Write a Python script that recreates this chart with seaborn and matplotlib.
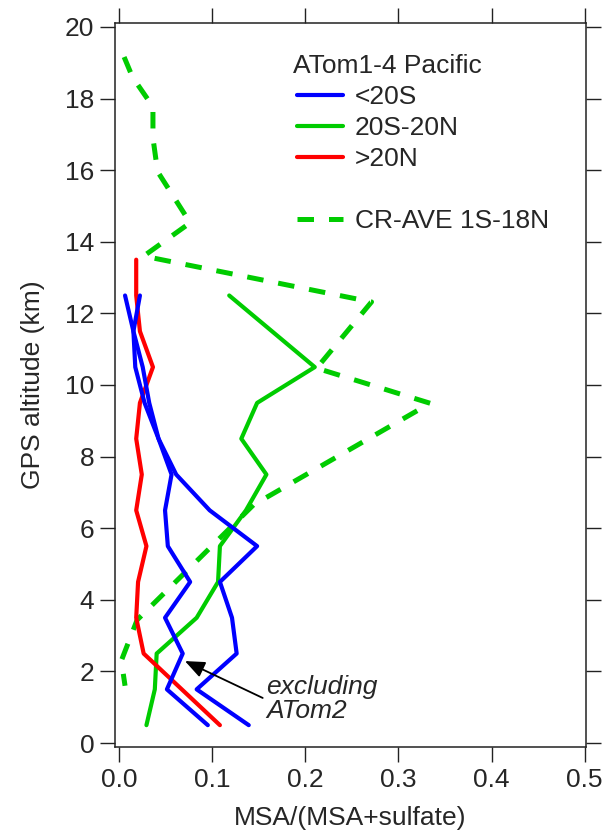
import matplotlib
matplotlib.use("Agg")
import matplotlib.pyplot as plt
from matplotlib.lines import Line2D
import seaborn as sns
import pandas as pd

# ---------------- data ----------------
alt_atom = [0.5, 1.5, 2.5, 3.5, 4.5, 5.5, 6.5, 7.5, 8.5, 9.5, 10.5, 11.5, 12.5]
alt_red = [0.5, 1.5, 2.5, 3.5, 4.5, 5.5, 6.5, 7.5, 8.5, 9.5, 10.5, 11.5, 12.5, 13.5]

south_all = [0.139, 0.083, 0.126, 0.121, 0.108, 0.148, 0.097, 0.061, 0.042, 0.032, 0.025, 0.015, 0.006]
south_excl_atom2 = [0.095, 0.051, 0.068, 0.049, 0.076, 0.052, 0.049, 0.056, 0.042, 0.027, 0.017, 0.015, 0.022]
tropics = [0.029, 0.038, 0.040, 0.083, 0.106, 0.108, 0.136, 0.158, 0.131, 0.148, 0.210, 0.164, 0.118]
north = [0.108, 0.067, 0.026, 0.018, 0.020, 0.029, 0.018, 0.024, 0.018, 0.022, 0.036, 0.022, 0.018, 0.018]

crave_alt = [19.16, 18.6, 17.77, 16.9, 15.96, 14.53, 13.6, 12.32, 10.47, 9.49, 6.65, 3.44, 2.3, 1.6]
crave_ratio = [0.005, 0.014, 0.036, 0.036, 0.041, 0.076, 0.026, 0.271, 0.212, 0.334, 0.144, 0.019, 0.002, 0.006]

x_ticks = [0.0, 0.1, 0.2, 0.3, 0.4, 0.5]
y_ticks = [0, 2, 4, 6, 8, 10, 12, 14, 16, 18, 20]
legend_labels = ["<20S", "20S-20N", ">20N", " ", "CR-AVE 1S-18N"]
legend_title = "ATom1-4 Pacific"

BLUE, GREEN, RED = "#0000FF", "#00CC00", "#FF0000"

# ---------------- style ----------------
sns.set_theme(style="ticks")
plt.rcParams["font.family"] = ["Liberation Sans", "DejaVu Sans"]
plt.rcParams["axes.linewidth"] = 1.1
plt.rcParams["axes.edgecolor"] = "#222222"

fig = plt.figure(figsize=(6.04, 8.39), dpi=100)
ax = fig.add_axes([115 / 604, 1 - 747 / 839, (586 - 115) / 604, (747 - 23) / 839])

lw = 3.0
df_crave = pd.DataFrame({"x": crave_ratio, "y": crave_alt})
sns.lineplot(data=df_crave, x="x", y="y", sort=False, estimator=None, ax=ax,
             color=GREEN, lw=3.6, dashes=False)
ax.lines[-1].set_dashes((3.3, 3.0))
ax.lines[-1].set_dash_capstyle("butt")

for vals, alts, col in [(tropics, alt_atom, GREEN),
                        (north, alt_red, RED),
                        (south_all, alt_atom, BLUE),
                        (south_excl_atom2, alt_atom, BLUE)]:
    sns.lineplot(x=vals, y=alts, sort=False, estimator=None, ax=ax,
                 color=col, lw=lw)

ax.set_xlim(-0.0048, 0.5016)
ax.set_ylim(-0.11, 20.11)
ax.set_xticks(x_ticks)
ax.set_xticklabels([f"{v:.1f}" for v in x_ticks])
ax.set_yticks(y_ticks)
ax.set_yticklabels([str(v) for v in y_ticks])
ax.tick_params(direction="out", length=11, width=1.0, top=True, right=True,
               labeltop=False, labelright=False, labelsize=19, pad=4,
               color="#222222")
ax.set_xlabel("MSA/(MSA+sulfate)", fontsize=19, labelpad=10)
ax.set_ylabel("GPS altitude (km)", fontsize=19, labelpad=14)

# legend
handles = [Line2D([], [], color=BLUE, lw=lw),
           Line2D([], [], color=GREEN, lw=lw),
           Line2D([], [], color=RED, lw=lw),
           Line2D([], [], color="none", lw=lw),
           Line2D([], [], color=GREEN, lw=3.6, dashes=(3.3, 3.0))]
ax.legend(handles, legend_labels, loc="upper left",
          bbox_to_anchor=(297 / 604, 1 - 85 / 839), bbox_transform=fig.transFigure,
          frameon=False, fontsize=19, handlelength=1.74, handletextpad=0.45,
          labelspacing=0.27, borderpad=0, borderaxespad=0)
fig.text(293 / 604, 1 - 66 / 839, legend_title, fontsize=19, ha="left", va="center")

# annotation
ax.annotate("", xy=(0.0704, 2.29), xytext=(0.154, 1.26),
            arrowprops=dict(arrowstyle="-|>,head_length=0.6,head_width=0.25",
                            color="black", lw=1.3, mutation_scale=20,
                            shrinkA=0, shrinkB=0))
ax.text(0.1575, 1.23, "excluding\nATom2", style="italic", fontsize=19,
        ha="left", va="center", linespacing=0.95)

fig.savefig("out.png", dpi=100)
